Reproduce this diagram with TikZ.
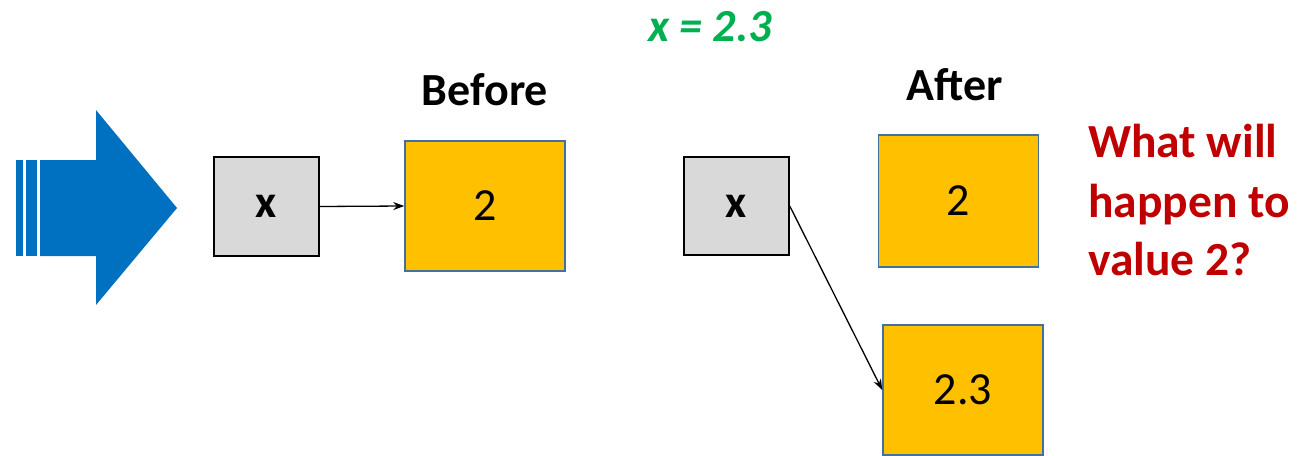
\documentclass[tikz,border=0pt]{standalone}
\usepackage{fontspec}
\setmainfont{Carlito}
\usetikzlibrary{arrows.meta}
\definecolor{boxgray}{HTML}{D9D9D9}
\definecolor{boxyellow}{HTML}{FFC000}
\definecolor{boxedge}{HTML}{41719C}
\definecolor{bigblue}{HTML}{0070C0}
\definecolor{greentxt}{HTML}{00B050}
\definecolor{redtxt}{HTML}{C00000}
\tikzset{
  varbox/.style={draw=black, line width=1.5pt, fill=boxgray, minimum width=105pt, minimum height=99pt, inner sep=0pt, font=\fontsize{46}{55}\selectfont\bfseries},
  valbox/.style={draw=boxedge, line width=1.5pt, fill=boxyellow, minimum width=160pt, minimum height=130pt, inner sep=0pt, font=\fontsize{46}{55}\selectfont},
  ptr/.style={line width=1.3pt, -{Stealth[length=11pt,width=8pt]}},
  heading/.style={anchor=base, inner sep=0pt, font=\fontsize{46}{55}\selectfont\bfseries},
  question/.style={anchor=base west, inner sep=0pt, text=redtxt, font=\fontsize{47.5}{55}\selectfont\bfseries},
}
\begin{document}
\begin{tikzpicture}[x=1pt,y=-1pt]
\useasboundingbox (0,0) rectangle (1297,455);
% big blue arrow
\fill[bigblue] (16,160) rectangle (23,256);
\fill[bigblue] (26,160) rectangle (37,256);
\fill[bigblue] (40,160) -- (96,160) -- (96,110) -- (177,208) -- (96,305) -- (96,256) -- (40,256) -- cycle;
% title
\node[anchor=base, inner sep=0pt, text=greentxt, font=\fontsize{46}{55}\selectfont\bfseries\itshape] (title) at (710,41) {x = 2.3};
% before
\node[heading] (before) at (485,105) {Before};
\node[varbox] (x1) at (266.5,206.5) {x};
\node[valbox] (v1) at (485,206) {2};
\draw[ptr] (x1.east) -- (v1.west);
% after
\node[heading] (after) at (955,100) {After};
\node[varbox, minimum height=98pt] (x2) at (736.5,206) {x};
\node[valbox, minimum height=132pt] (v2) at (958.5,201) {2};
\node[valbox] (v3) at (963,390) {2.3};
\draw[ptr] (x2.east) -- (v3.west);
% question
\node[question] (q1) at (1088,157) {What will};
\node[question] (q2) at (1088,217) {happen to};
\node[question] (q3) at (1088,275) {value 2?};
\end{tikzpicture}
\end{document}
